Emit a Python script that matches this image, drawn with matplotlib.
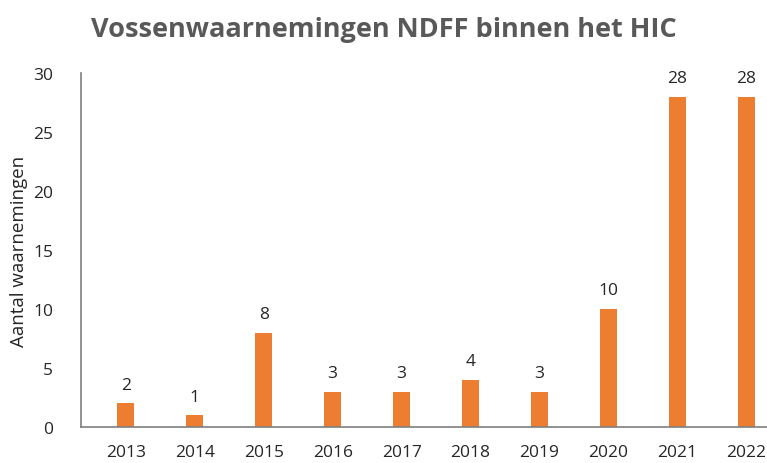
import matplotlib
matplotlib.use('Agg')
import matplotlib.pyplot as plt

jaren = ['2013', '2014', '2015', '2016', '2017', '2018', '2019', '2020', '2021', '2022']
aantal = [2, 1, 8, 3, 3, 4, 3, 10, 28, 28]

plt.rcParams['font.family'] = ['Open Sans', 'DejaVu Sans']

fig = plt.figure(figsize=(7.67, 4.64), dpi=100)
ax = fig.add_axes([0.1056, 0.0776, 0.8944, 0.7629])

x = range(len(jaren))
bars = ax.bar(x, aantal, width=0.25, color='#ED7D31')
for xi, v in zip(x, aantal):
    ax.text(xi, v + 0.9, str(v), ha='center', va='bottom', fontsize=12.5, color='#262626')

ax.set_xlim(-0.65, 9.3)
ax.set_ylim(0, 30)
ax.set_yticks(range(0, 31, 5))
ax.set_xticks(list(x))
ax.set_xticklabels(jaren)
ax.tick_params(length=0, labelsize=12.5, colors='#262626')
ax.tick_params(axis='x', pad=12)
ax.tick_params(axis='y', pad=20)
for s in ['top', 'right']:
    ax.spines[s].set_visible(False)
for s in ['left', 'bottom']:
    ax.spines[s].set_color('#7f7f7f')
    ax.spines[s].set_linewidth(1.2)

ax.set_ylabel('Aantal waarnemingen', fontsize=13.5, color='#262626', labelpad=4)
fig.text(0.5, 0.935, 'Vossenwaarnemingen NDFF binnen het HIC', ha='center', va='center',
         fontsize=19.5, fontweight='bold', color='#595959')

fig.savefig('out.png', dpi=100)
